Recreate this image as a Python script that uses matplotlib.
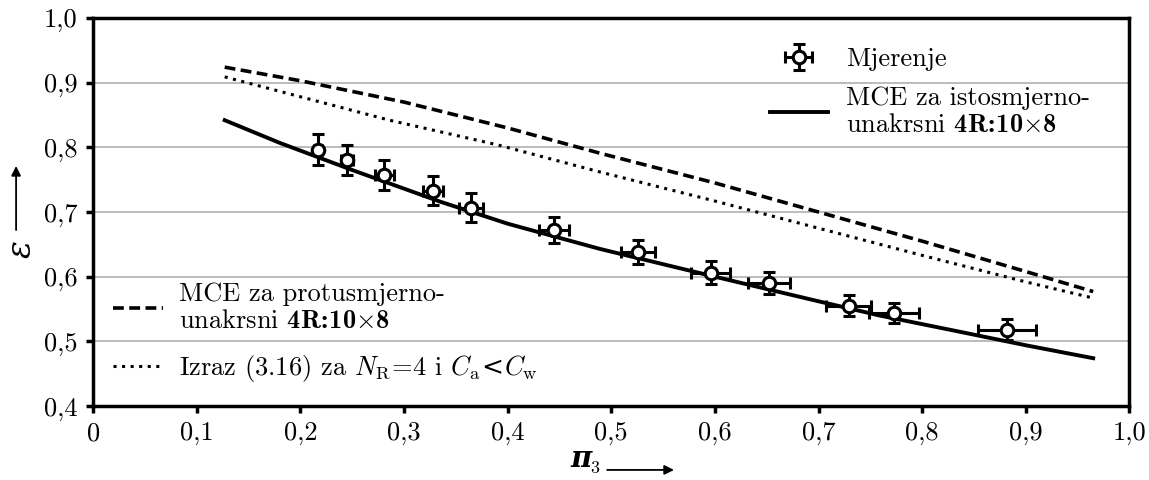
import matplotlib
matplotlib.use('Agg')
import matplotlib.pyplot as plt
from matplotlib.ticker import FuncFormatter

plt.rcParams['font.family'] = 'serif'
plt.rcParams['font.serif'] = ['cmr10']
plt.rcParams['mathtext.fontset'] = 'custom'
plt.rcParams['mathtext.rm'] = 'cmr10'
plt.rcParams['mathtext.it'] = 'cmmi10'
plt.rcParams['mathtext.bf'] = 'cmb10'
plt.rcParams['mathtext.sf'] = 'DejaVu Serif'
plt.rcParams['mathtext.fallback'] = 'cm'
plt.rcParams['axes.unicode_minus'] = False
plt.rcParams['axes.formatter.use_mathtext'] = True

# measured points
pi3 = [0.217, 0.245, 0.281, 0.328, 0.365, 0.445, 0.526, 0.596, 0.652, 0.729, 0.773, 0.882]
eps = [0.796, 0.781, 0.757, 0.733, 0.707, 0.672, 0.638, 0.606, 0.591, 0.555, 0.544, 0.518]
pi3_err = [0.004, 0.006, 0.009, 0.010, 0.0115, 0.0145, 0.0165, 0.019, 0.020, 0.022, 0.024, 0.028]
eps_err = [0.024, 0.023, 0.023, 0.022, 0.022, 0.020, 0.018, 0.018, 0.017, 0.016, 0.016, 0.016]

# MCE istosmjerno-unakrsni (solid)
x_co = [0.127, 0.18, 0.25, 0.335, 0.4, 0.489, 0.6, 0.7, 0.759, 0.836, 0.9, 0.965]
y_co = [0.842, 0.807, 0.765, 0.716, 0.682, 0.643, 0.600, 0.562, 0.540, 0.515, 0.494, 0.474]

# MCE protusmjerno-unakrsni (dashed)
x_counter = [0.127, 0.2, 0.3, 0.4, 0.489, 0.6, 0.7, 0.8, 0.9, 0.965]
y_counter = [0.924, 0.903, 0.870, 0.830, 0.791, 0.745, 0.700, 0.655, 0.608, 0.577]

# Izraz (3.16) (dotted)
x_expr = [0.127, 0.286, 0.39, 0.489, 0.6, 0.7, 0.8, 0.9, 0.965]
y_expr = [0.909, 0.842, 0.804, 0.762, 0.717, 0.675, 0.633, 0.592, 0.567]

tag = r'$\mathbf{4R\!:\!10{\times}8}$'

fig = plt.figure(figsize=(11.49, 4.8), dpi=100)
ax = fig.add_axes([0.081, 0.154, 0.902, 0.8085])

ax.set_xlim(0, 1.0)
ax.set_ylim(0.4, 1.0)
ax.set_xticks([i / 10 for i in range(11)])
ax.set_yticks([0.4 + i / 10 for i in range(7)])

def comma(v, pos):
    if abs(v) < 1e-9:
        return '0'
    return ('%.1f' % v).replace('.', ',')

ax.xaxis.set_major_formatter(FuncFormatter(comma))
ax.yaxis.set_major_formatter(FuncFormatter(comma))
ax.tick_params(direction='out', length=5, width=2.5, labelsize=19, pad=6)
for s in ax.spines.values():
    s.set_linewidth(2.5)
ax.yaxis.grid(True, color='#b0b0b0', lw=1.2)
ax.set_axisbelow(True)

l_counter, = ax.plot(x_counter, y_counter, color='k', lw=2.6, ls=(0, (3, 1.5)))
l_expr, = ax.plot(x_expr, y_expr, color='k', lw=2.2, ls=(0, (1, 1.8)))
l_co, = ax.plot(x_co, y_co, color='k', lw=2.8)
eb = ax.errorbar(pi3, eps, xerr=pi3_err, yerr=eps_err, fmt='o', color='k',
                 mfc='white', mec='k', ms=9, mew=2.2, elinewidth=2.2,
                 capsize=4.5, capthick=2.2, zorder=5)

# axis labels with long arrows
fig.text(0.506, 0.015, '\u03c0', family='DejaVu Serif', weight='bold', style='italic',
         fontsize=21, ha='center', va='bottom')
fig.text(0.5135, 0.008, '3', fontsize=13, ha='left', va='bottom')
ax.annotate('', xy=(0.589, 0.021), xytext=(0.526, 0.021), xycoords='figure fraction',
            annotation_clip=False,
            arrowprops=dict(arrowstyle='-|>', color='k', lw=1.3, mutation_scale=14))
fig.text(0.019, 0.482, '\u03b5', family='DejaVu Serif', style='italic', fontsize=24,
         rotation=90, ha='center', va='center')
ax.annotate('', xy=(0.014, 0.66), xytext=(0.014, 0.515), xycoords='figure fraction',
            annotation_clip=False,
            arrowprops=dict(arrowstyle='-|>', color='k', lw=1.3, mutation_scale=14))

leg1 = ax.legend([eb, l_co],
                 ['Mjerenje', 'MCE za istosmjerno-\nunakrsni ' + tag],
                 loc='upper right', bbox_to_anchor=(0.985, 0.985), frameon=False,
                 fontsize=19, handlelength=2.2, handletextpad=0.7, labelspacing=0.55)
ax.add_artist(leg1)
ax.legend([l_counter, l_expr],
          ['MCE za protusmjerno-\nunakrsni ' + tag,
           r'Izraz (3.16) za $N_\mathrm{R}\!=\!4$ i $C_\mathrm{a}\!\mathsf{<}\!C_\mathrm{w}$'],
          loc='lower left', bbox_to_anchor=(-0.004, -0.005), frameon=False,
          fontsize=19, handlelength=1.9, handletextpad=0.6, labelspacing=0.75)

fig.savefig('out.png', dpi=100)
